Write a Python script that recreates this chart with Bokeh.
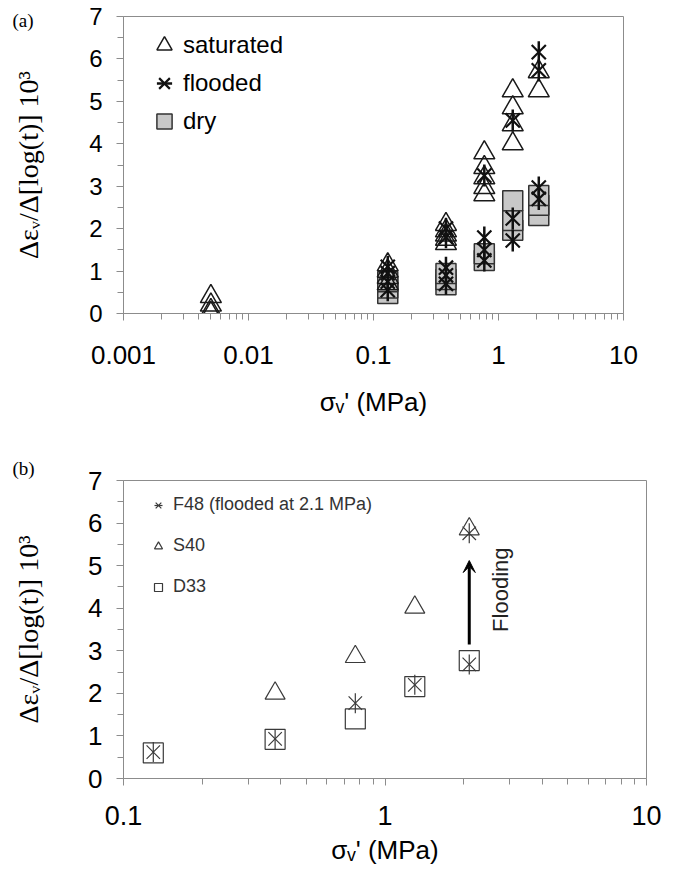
from math import pi
from bokeh.plotting import figure
from bokeh.models import (Range1d, FixedTicker, Label, Legend, LegendItem,
                          Arrow, VeeHead, ColumnDataSource, Title)
from bokeh.layouts import column
from bokeh.embed import file_html
from bokeh.resources import INLINE

# ---------------- data, panel (a) ----------------
sat_a_x = [0.005, 0.005, 0.005, 0.005,
           0.13, 0.13, 0.13, 0.13,
           0.38, 0.38, 0.38, 0.38, 0.38,
           0.77, 0.77, 0.77, 0.77, 0.77,
           1.3, 1.3, 1.3, 1.3,
           2.1, 2.1]
sat_a_y = [0.0, 0.07, 0.2, 0.4,
           0.7, 0.85, 1.0, 1.15,
           1.65, 1.75, 1.85, 1.95, 2.1,
           2.8, 2.97, 3.2, 3.44, 3.79,
           4.0, 4.45, 4.85, 5.25,
           5.25, 5.7]

fld_a_x = [0.13, 0.13, 0.13, 0.13,
           0.38, 0.38, 0.38, 0.38, 0.38,
           0.77, 0.77, 0.77, 0.77,
           1.3, 1.3, 1.3,
           2.1, 2.1, 2.1, 2.1]
fld_a_y = [0.55, 0.75, 0.95, 1.1,
           0.7, 0.9, 1.08, 1.8, 2.0,
           1.25, 1.5, 1.79, 3.25,
           1.72, 2.24, 4.55,
           2.7, 2.97, 5.73, 6.16]

dry_a_x = [0.13, 0.13, 0.13,
           0.38, 0.38, 0.38,
           0.77, 0.77,
           1.3, 1.3, 1.3,
           2.1, 2.1, 2.1]
dry_a_y = [0.47, 0.6, 0.75,
           0.68, 0.8, 0.94,
           1.25, 1.41,
           1.96, 2.19, 2.66,
           2.31, 2.55, 2.78]

# ---------------- data, panel (b) ----------------
f48_x = [0.13, 0.38, 0.77, 1.3, 2.1, 2.1]
f48_y = [0.62, 0.93, 1.77, 2.2, 2.68, 5.76]
s40_x = [0.38, 0.77, 1.3, 2.1]
s40_y = [2.0, 2.86, 4.02, 5.86]
d33_x = [0.13, 0.38, 0.77, 1.3, 2.1]
d33_y = [0.6, 0.92, 1.4, 2.16, 2.77]

flood_stress = 2.1
flood_from = 3.15
flood_to = 5.12

# ---------------- ticks ----------------
y_ticks = [0, 1, 2, 3, 4, 5, 6, 7]
y_minor = [0.5, 1.5, 2.5, 3.5, 4.5, 5.5, 6.5]
xa_ticks = [0.001, 0.01, 0.1, 1, 10]
xa_labels = ["0.001", "0.01", "0.1", "1", "10"]
xb_ticks = [0.1, 1, 10]
xb_labels = ["0.1", "1", "10"]

SANS = "Liberation Sans"
SERIF = "Liberation Serif"
GRAY = "#8c8c8c"
X_TITLE = "\u03c3\u1d65' (MPa)"
Y_TITLE = "\u0394\u03b5\u1d65/\u0394[log(t)] 10\u00b3"


def minor_log(ticks):
    out = []
    for t in ticks[:-1]:
        for m in range(2, 10):
            out.append(round(t * m, 6))
    return out


def base_fig(xr, height, top, bottom, right, ticks, labels, xtick_fs, ytick_fs,
             title_fs, lab_standoff, title_standoff, ytitle_standoff):
    p = figure(width=676, height=height, x_axis_type="log",
               x_range=Range1d(*xr), y_range=Range1d(0, 7),
               output_backend="svg", toolbar_location=None,
               min_border_left=123, min_border_right=right,
               min_border_top=top, min_border_bottom=bottom)
    try:
        p.frame_align = False
    except Exception:
        pass
    p.grid.visible = False
    p.outline_line_color = GRAY
    p.outline_line_width = 1
    p.background_fill_color = "white"
    p.border_fill_color = "white"
    for ax in (p.xaxis[0], p.yaxis[0]):
        ax.axis_line_color = GRAY
        ax.major_tick_line_color = GRAY
        ax.minor_tick_line_color = GRAY
        ax.major_tick_in = 0
        ax.major_tick_out = 7
        ax.minor_tick_in = 0
        ax.minor_tick_out = 6
        ax.major_label_text_font = SANS
        ax.major_label_text_color = "black"
    p.xaxis.major_label_text_font_size = f"{xtick_fs}px"
    p.yaxis.major_label_text_font_size = f"{ytick_fs}px"
    p.xaxis.ticker = FixedTicker(ticks=ticks, minor_ticks=minor_log(ticks))
    p.xaxis.major_label_overrides = {t: l for t, l in zip(ticks, labels)}
    p.xaxis.major_label_standoff = lab_standoff
    p.xaxis.axis_label = X_TITLE
    p.xaxis.axis_label_text_font = SANS
    p.xaxis.axis_label_text_font_style = "normal"
    p.xaxis.axis_label_text_font_size = f"{title_fs}px"
    p.xaxis.axis_label_text_color = "black"
    p.xaxis.axis_label_standoff = title_standoff
    p.yaxis.ticker = FixedTicker(ticks=y_ticks, minor_ticks=y_minor)
    p.yaxis.major_label_standoff = 14
    p.yaxis.axis_label = Y_TITLE
    p.yaxis.axis_label_text_font = SERIF
    p.yaxis.axis_label_text_font_style = "normal"
    p.yaxis.axis_label_text_font_size = "28px"
    p.yaxis.axis_label_text_color = "black"
    p.yaxis.axis_label_standoff = ytitle_standoff
    return p


# ---------------- panel (a) ----------------
pa = base_fig((0.001, 10), 445, 16, 132, 53, xa_ticks, xa_labels, 26, 24, 26,
              25, 20, 42)

r_dry = pa.scatter(x="x", y="y", source=ColumnDataSource(dict(x=dry_a_x, y=dry_a_y)),
                   marker="square", size=20, fill_color="#c8c8c8",
                   line_color="#333333", line_width=1.5)
r_sat = pa.scatter(x="x", y="y", source=ColumnDataSource(dict(x=sat_a_x, y=sat_a_y)),
                   marker="triangle", size=21, fill_alpha=0,
                   line_color="#1a1a1a", line_width=1.5)
src_fa = ColumnDataSource(dict(x=fld_a_x, y=fld_a_y))
r_fx = pa.scatter(x="x", y="y", source=src_fa, marker="x", size=20,
                  line_color="#111111", line_width=2.2)
r_fv = pa.scatter(x="x", y="y", source=src_fa, marker="dash", size=22, angle=pi / 2,
                  line_color="#111111", line_width=2.5)

leg_a = Legend(items=[LegendItem(label="saturated", renderers=[r_sat]),
                      LegendItem(label="flooded", renderers=[r_fx, r_fv]),
                      LegendItem(label="dry", renderers=[r_dry])],
               location=(22, 173), margin=0, padding=0, spacing=0,
               glyph_height=38, glyph_width=38, label_standoff=0,
               label_text_font=SANS, label_text_font_size="24px",
               label_text_color="black", background_fill_alpha=0,
               border_line_alpha=0)
pa.add_layout(leg_a)

# panel tag, kept in the (empty) right border so it is not clipped to the frame
pa.add_layout(Label(x=12, y=20, x_units="canvas", y_units="canvas",
                    text="(a)", text_font=SERIF, text_font_size="19px",
                    text_baseline="middle", text_color="black"), "right")

# ---------------- panel (b) ----------------
pb = base_fig((0.1, 10), 426, 35, 93, 30, xb_ticks, xb_labels, 27, 26, 26,
              20, 7, 41)

r_d33 = pb.scatter(x="x", y="y", source=ColumnDataSource(dict(x=d33_x, y=d33_y)),
                   marker="square", size=20, fill_alpha=0,
                   line_color="#3a3a3a", line_width=1.2)
r_s40 = pb.scatter(x="x", y="y", source=ColumnDataSource(dict(x=s40_x, y=s40_y)),
                   marker="triangle", size=20, fill_alpha=0,
                   line_color="#3a3a3a", line_width=1.2)
src_f48 = ColumnDataSource(dict(x=f48_x, y=f48_y))
r_f48x = pb.scatter(x="x", y="y", source=src_f48, marker="x", size=19,
                    line_color="#3a3a3a", line_width=1.2)
r_f48v = pb.scatter(x="x", y="y", source=src_f48, marker="dash", size=20, angle=pi / 2,
                    line_color="#3a3a3a", line_width=1.2)

leg_b = Legend(items=[LegendItem(label="F48 (flooded at 2.1 MPa)", renderers=[r_f48x, r_f48v]),
                      LegendItem(label="S40", renderers=[r_s40]),
                      LegendItem(label="D33", renderers=[r_d33])],
               location=(20, 181), margin=0, padding=0, spacing=20,
               glyph_height=20, glyph_width=30, label_standoff=0,
               label_text_font=SANS, label_text_font_size="18px",
               label_text_color="#333333", background_fill_alpha=0,
               border_line_alpha=0)
pb.add_layout(leg_b)

pb.add_layout(Arrow(end=VeeHead(size=12, fill_color="black", line_color="black"),
                    x_start=flood_stress, y_start=flood_from,
                    x_end=flood_stress, y_end=flood_to,
                    line_width=3, line_color="black"))
pb.add_layout(Label(x=2.77, y=(flood_from + flood_to) / 2 + 0.3, text="Flooding",
                    angle=pi / 2, text_align="center", text_baseline="middle",
                    text_font=SANS, text_font_size="22px", text_color="#222222"))

pb.add_layout(Title(text="(b)", align="left", offset=-111, standoff=4,
                    text_font=SERIF, text_font_size="19px",
                    text_font_style="normal", text_color="black"), "above")

layout = column(pa, pb, spacing=0)
open("out.html", "w").write(file_html(layout, INLINE))
